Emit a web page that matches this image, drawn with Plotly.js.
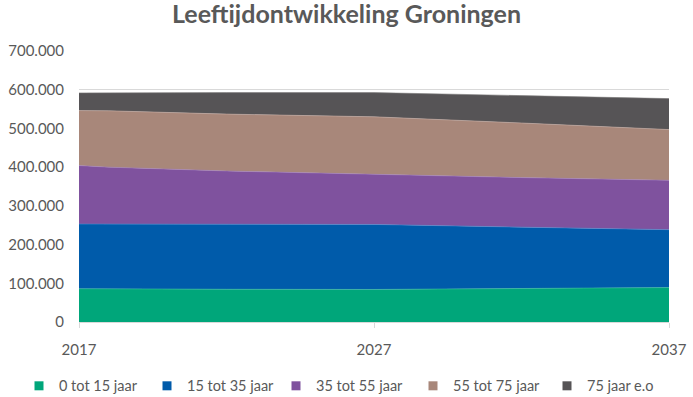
<!DOCTYPE html>
<html>
<head>
<meta charset="utf-8">
<script src="https://cdn.plot.ly/plotly-3.0.1.min.js"></script>
<style>html,body{margin:0;padding:0;background:#fff;}#chart{width:693px;height:397px;}</style>
</head>
<body>
<div id="chart"></div>
<script>
const years = [2017, 2018, 2022, 2027, 2032, 2037];
const seriesNames = ['0 tot 15 jaar', '15 tot 35 jaar', '35 tot 55 jaar', '55 tot 75 jaar', '75 jaar e.o'];
const age0_15 = [86000, 86000, 84500, 84000, 86500, 89000];
const age15_35 = [167000, 167000, 168000, 168000, 158500, 149500];
const age35_55 = [151000, 147000, 137500, 129000, 128000, 127500];
const age55_75 = [142000, 145500, 147000, 149000, 141000, 131000];
const age75plus = [45700, 46500, 55500, 62500, 71500, 80000];
const xTickVals = [2017, 2027, 2037];
const yTickVals = [0, 100000, 200000, 300000, 400000, 500000, 600000, 700000];

const colors = ['#00A67A', '#005BAA', '#7F529E', '#A8877A', '#565456'];
const lineColors = ['#3CC49E', '#4A8BD0', '#A07CC0', '#C9ADA2', '#7A7879'];
const data = [age0_15, age15_35, age35_55, age55_75, age75plus];

const traces = data.map((vals, i) => ({
  x: years,
  y: vals,
  name: seriesNames[i],
  type: 'scatter',
  mode: 'lines',
  stackgroup: 'one',
  fillcolor: colors[i],
  line: {color: lineColors[i], width: 0.6},
  showlegend: false,
  hoverinfo: 'x+y+name'
}));

// one legend per entry so that entries sit where the reference has them
const legendIds = ['legend', 'legend2', 'legend3', 'legend4', 'legend5'];
const legendLeftPx = [19, 147, 276, 413, 547];
seriesNames.forEach((nm, i) => {
  traces.push({
    x: [null], y: [null],
    name: nm,
    type: 'scatter',
    mode: 'markers',
    marker: {symbol: 'square', size: 9, color: colors[i]},
    showlegend: true,
    legend: legendIds[i],
    hoverinfo: 'skip'
  });
});

const layout = {
  width: 693,
  height: 397,
  margin: {l: 79, r: 24, t: 51, b: 75},
  paper_bgcolor: '#ffffff',
  plot_bgcolor: '#ffffff',
  separators: ',.',
  title: {
    text: '<b>Leeftijdontwikkeling Groningen</b>',
    font: {family: 'Lato, sans-serif', size: 25, color: '#595959'},
    x: 0.5, xanchor: 'center', xref: 'container',
    y: 0.963, yanchor: 'middle'
  },
  xaxis: {
    range: [2017, 2037],
    tickvals: xTickVals,
    ticktext: xTickVals.map(String),
    ticks: 'outside',
    ticklen: 5,
    tickcolor: '#d9d9d9',
    showgrid: false,
    showline: true,
    linecolor: '#d9d9d9',
    linewidth: 1,
    zeroline: false,
    ticklabelstandoff: 9,
    tickfont: {family: 'Lato, sans-serif', size: 15, color: '#595959'}
  },
  yaxis: {
    range: [0, 700000],
    tickvals: yTickVals,
    tickformat: ',.0f',
    showgrid: true,
    gridcolor: '#d9d9d9',
    gridwidth: 1,
    zeroline: false,
    showline: false,
    ticks: '',
    ticklabelstandoff: 14,
    tickfont: {family: 'Lato, sans-serif', size: 15, color: '#595959'}
  },
  showlegend: true
};

legendIds.forEach((id, i) => {
  layout[id] = {
    orientation: 'h',
    x: legendLeftPx[i] / 693, xanchor: 'left', xref: 'container',
    y: 0.028, yanchor: 'middle', yref: 'container',
    bgcolor: 'rgba(0,0,0,0)',
    font: {family: 'Lato, sans-serif', size: 14.5, color: '#595959'},
    itemwidth: 30
  };
});

Plotly.newPlot('chart', traces, layout, {displayModeBar: false, staticPlot: true});
</script>
</body>
</html>
